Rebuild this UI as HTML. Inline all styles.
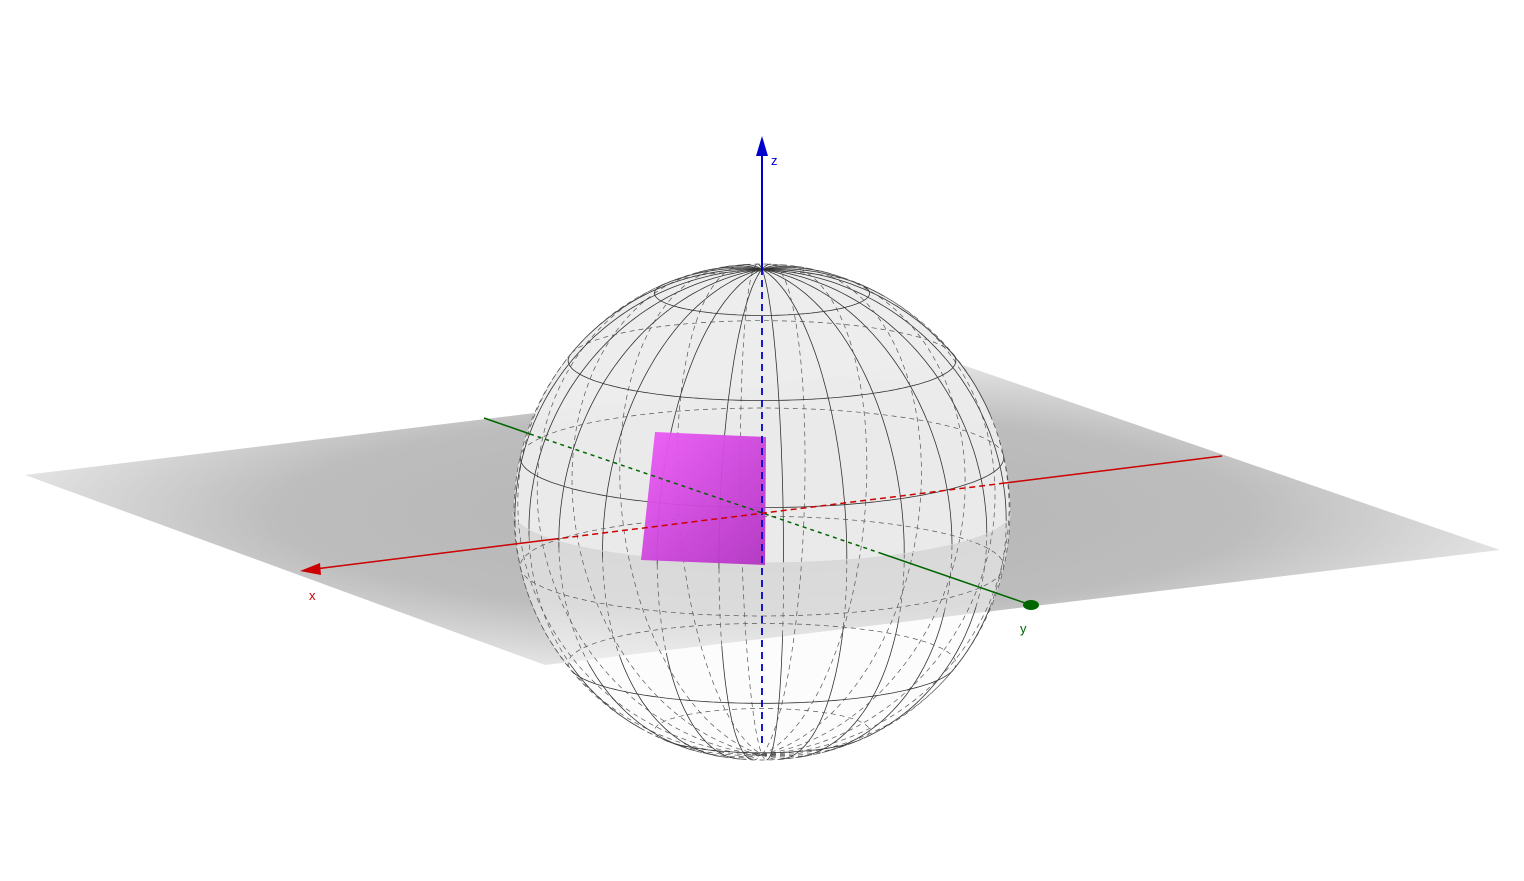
<!DOCTYPE html>
<html><head><meta charset="utf-8"><style>
html,body{margin:0;padding:0;background:#fff;width:1524px;height:881px;overflow:hidden}
svg{display:block;font-family:"Liberation Sans",sans-serif}
</style></head><body>
<svg id="s" width="1524" height="881" viewBox="0 0 1524 881">
<defs>
<radialGradient id="pg" cx="0.5" cy="0.5" r="0.6">
<stop offset="0" stop-color="#b4b4b4"/><stop offset="0.55" stop-color="#bdbdbd"/><stop offset="0.85" stop-color="#e2e2e2"/><stop offset="1" stop-color="#f8f8f8"/>
</radialGradient>
<linearGradient id="mg" x1="0" y1="0" x2="1" y2="1">
<stop offset="0" stop-color="#ee5cf8"/><stop offset="1" stop-color="#b132c2"/>
</linearGradient>
<clipPath id="upper"><path d="M513,512 A249,51 0 0 0 1011,512 L1011,200 L513,200 Z"/></clipPath>
</defs>
<polygon points="25,475 954,362 1500,550 545,665" fill="url(#pg)"/>
<circle cx="762" cy="512" r="248" fill="rgba(250,250,250,0.5)"/>
<circle cx="762" cy="512" r="248" fill="#ececec" opacity="0.92" clip-path="url(#upper)"/>
<g id="grid"></g>
<polygon points="655,432 766,437 765,565 641,560" fill="url(#mg)" opacity="0.95"/>
<g>
<line x1="762" y1="150" x2="762" y2="268" stroke="#0000cc" stroke-width="2"/>
<line x1="762" y1="268" x2="762" y2="748" stroke="#0000cc" stroke-width="1.8" stroke-dasharray="7,5"/>
<polygon points="762,136 756,156 768,156" fill="#0000cc"/>
<line x1="1222" y1="456" x2="1005" y2="483" stroke="#cc0000" stroke-width="1.5"/>
<line x1="1005" y1="483" x2="555" y2="539" stroke="#cc0000" stroke-width="1.5" stroke-dasharray="6,4"/>
<line x1="555" y1="539" x2="315" y2="569" stroke="#cc0000" stroke-width="1.5"/>
<polygon points="300,571 320,563 321,575" fill="#cc0000"/>
<line x1="484" y1="418" x2="530" y2="434" stroke="#006600" stroke-width="1.5"/>
<line x1="530" y1="434" x2="880" y2="553" stroke="#006600" stroke-width="1.5" stroke-dasharray="4,4"/>
<line x1="880" y1="553" x2="1028" y2="604" stroke="#006600" stroke-width="1.5"/>
<ellipse cx="1031" cy="605" rx="8" ry="5" fill="#006600"/>
<text x="771" y="165" fill="#0000cc" font-size="13">z</text>
<text x="309" y="600" fill="#cc0000" font-size="13">x</text>
<text x="1020" y="633" fill="#006600" font-size="13">y</text>
</g>
</svg>
<script>
const meridians=[5,20,35,50,65,80,95,110,125,140,155,170];
const latitudes=[-64.3,-38.6,-12.9,12.9,38.6,64.3];
const C={x:762,y:512},R=248,e=Math.asin(0.206);
const PL=[[25,475],[954,362],[1500,550],[545,665]];
const g=document.getElementById('grid');
function inPlane(x,y){let c=false;for(let i=0,j=3;i<4;j=i++){const a=PL[i],b=PL[j];
 if((a[1]>y)!==(b[1]>y)&&x<(b[0]-a[0])*(y-a[1])/(b[1]-a[1])+a[0])c=!c;}return c;}
function proj(phi,th){const cp=Math.cos(phi),sp=Math.sin(phi);
 const p={x:C.x+R*cp*Math.sin(th),y:C.y-R*(sp*Math.cos(e)-cp*Math.cos(th)*Math.sin(e)),d:cp*Math.cos(th)*Math.cos(e)+sp*Math.sin(e)};
 p.v=p.d>=0&&!(sp<0&&inPlane(p.x,p.y));return p;}
function curve(f,n){let segs=[],cur=null,vis=null;
 for(let i=0;i<=n;i++){const p=f(i/n),v=p.v;
  if(vis===null||v!==vis){if(cur)cur.pts.push(p);cur={vis:v,pts:cur?[cur.pts[cur.pts.length-1]]:[]};segs.push(cur);vis=v;}
  cur.pts.push(p);}
 segs.forEach(s=>{const el=document.createElementNS('http://www.w3.org/2000/svg','polyline');
  
  
  el.setAttribute('points',s.pts.map(p=>p.x.toFixed(1)+','+p.y.toFixed(1)).join(' '));
  el.setAttribute('fill','none');el.setAttribute('stroke',s.vis?'#333':'#555');
  el.setAttribute('stroke-width',s.vis?'0.8':'0.7');
  if(!s.vis)el.setAttribute('stroke-dasharray','5,4');
  g.appendChild(el);});}
meridians.forEach(m=>{const th=m*Math.PI/180;curve(t=>proj(-Math.PI/2+t*2*Math.PI,th),240);});
latitudes.forEach(l=>{const ph=l*Math.PI/180;curve(t=>proj(ph,t*2*Math.PI),240);});
const o=document.createElementNS('http://www.w3.org/2000/svg','circle');


o.setAttribute('cx',C.x);o.setAttribute('cy',C.y);o.setAttribute('r',R);o.setAttribute('fill','none');o.setAttribute('stroke','#555');o.setAttribute('stroke-width','0.7');o.setAttribute('stroke-dasharray','5,4');
g.appendChild(o);
const rim=document.createElementNS('http://www.w3.org/2000/svg','path');


rim.setAttribute('d','M513,512 A249,51 0 0 0 1011,512');rim.setAttribute('fill','none');rim.setAttribute('stroke','#d8d8d8');rim.setAttribute('stroke-width','1');
g.appendChild(rim);
</script>
</body></html>
